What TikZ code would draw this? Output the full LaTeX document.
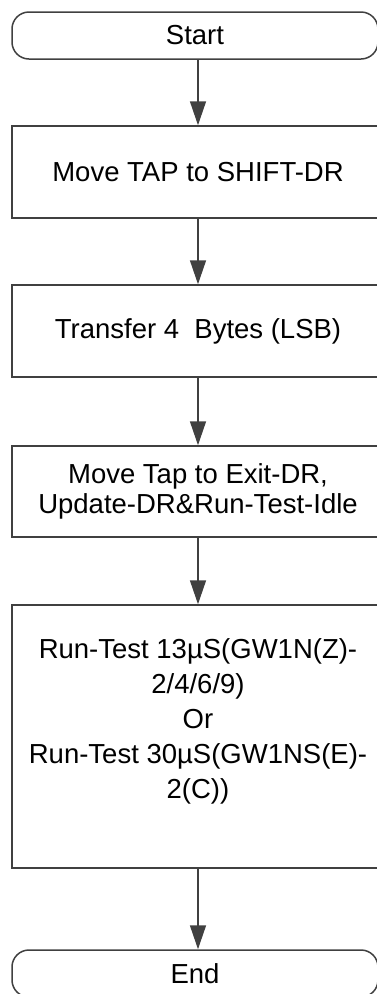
\documentclass[tikz,border=0pt]{standalone}
\usepackage{fontspec}
\setmainfont{Liberation Sans}
\usetikzlibrary{arrows.meta, positioning}
\definecolor{linegray}{HTML}{404040}
\tikzset{
    termbox/.style={draw=linegray, line width=1.5pt, rounded corners=17pt, minimum width=366pt, minimum height=47pt, inner sep=0pt, font=\fontsize{27.5}{30}\selectfont},
    procbox/.style={draw=linegray, line width=1.5pt, minimum width=372pt, minimum height=92pt, inner sep=0pt, align=center, font=\fontsize{27.5}{30}\selectfont},
    flowarr/.style={draw=linegray, line width=1.5pt, -{Triangle[width=16pt, length=24pt]}, color=linegray}
}

\begin{document}
\begin{tikzpicture}[x=1pt, y=-1pt]
        \useasboundingbox (0, 0) rectangle (377, 994);
        \node[termbox] (start) at (195, 35.5) {Start};
        \node[procbox] (b1) at (198, 172) {Move TAP to SHIFT-DR};
        \node[procbox] (b2) at (198, 331) {Transfer 4~ Bytes (LSB)};
        \node[procbox, minimum height=91pt] (b3) at (198, 491.5) {Move Tap to Exit-DR,\\Update-DR\&Run-Test-Idle};
        \node[procbox, minimum height=263pt, font=\fontsize{27.5}{35}\selectfont] (b4) at (198, 736.5)
            {Run-Test 13µS(GW1N(Z)-\\2/4/6/9)\\Or\\Run-Test 30µS(GW1NS(E)-\\2(C))\\~};
        \node[termbox] (end) at (195, 973.5) {End};

        \draw[flowarr] (start.south -| b1.north) -- (b1);
        \draw[flowarr] (b1) -- (b2);
        \draw[flowarr] (b2) -- (b3);
        \draw[flowarr] (b3) -- (b4);
        \draw[flowarr] (b4) -- (b4.south |- end.north);
\end{tikzpicture}
\end{document}
